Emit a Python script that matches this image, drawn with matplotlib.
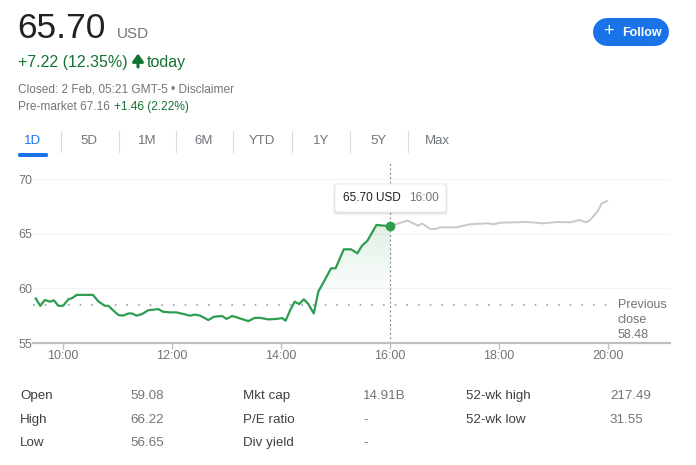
import numpy as np
import matplotlib
matplotlib.use('Agg')
import matplotlib.pyplot as plt
from matplotlib.patches import FancyBboxPatch

plt.rcParams['font.family'] = ['Liberation Sans', 'DejaVu Sans']

# regular session (green) and after-hours (grey)
reg_times = ['9:30', '9:35', '9:40', '9:46', '9:50', '9:55', '10:00', '10:06', '10:10', '10:15',
             '10:33', '10:39', '10:46', '10:50', '10:55', '11:01', '11:06', '11:12', '11:16', '11:21',
             '11:27', '11:34', '11:45', '11:50', '11:58', '12:05', '12:20', '12:25', '12:31', '12:40',
             '12:46', '12:55', '13:00', '13:06', '13:11', '13:24', '13:31', '13:37', '13:46', '13:55',
             '14:01', '14:05', '14:10', '14:15', '14:20', '14:25', '14:30', '14:36', '14:41', '14:47',
             '14:50', '14:55', '15:00', '15:09', '15:17', '15:24', '15:29', '15:35', '15:45', '15:53',
             '16:00']
reg_prices = [59.08, 58.40, 58.93, 58.78, 58.90, 58.40, 58.40, 59.00, 59.10, 59.40,
              59.40, 58.80, 58.40, 58.40, 58.00, 57.56, 57.50, 57.70, 57.70, 57.50,
              57.65, 58.00, 58.10, 57.86, 57.80, 57.80, 57.50, 57.60, 57.50, 57.10,
              57.40, 57.47, 57.20, 57.47, 57.35, 57.00, 57.30, 57.30, 57.16, 57.20,
              57.28, 57.04, 58.00, 58.78, 58.56, 59.00, 58.56, 57.70, 59.70, 60.60,
              61.06, 61.83, 61.83, 63.57, 63.57, 63.20, 63.90, 64.35, 65.80, 65.73,
              65.70]
post_times = ['16:00', '16:07', '16:19', '16:31', '16:35', '16:44', '16:50', '16:55', '17:13', '17:28',
              '17:47', '17:54', '18:01', '18:31', '18:49', '19:04', '19:18', '19:29', '19:36', '19:40',
              '19:48', '19:53', '19:59']
post_prices = [65.70, 65.88, 66.20, 65.73, 65.94, 65.43, 65.43, 65.58, 65.58, 65.86,
               65.94, 65.86, 66.00, 66.07, 65.94, 66.07, 66.04, 66.25, 66.04, 66.25,
               67.00, 67.78, 67.99]
prev_close = 58.48
y_ticks = [55, 60, 65, 70]
x_ticks = [10, 12, 14, 16, 18, 20]
x_tick_labels = ['10:00', '12:00', '14:00', '16:00', '18:00', '20:00']

tabs = ['1D', '5D', '1M', '6M', 'YTD', '1Y', '5Y', 'Max']
stats_labels = [['Open', 'High', 'Low'], ['Mkt cap', 'P/E ratio', 'Div yield'], ['52-wk high', '52-wk low']]
stats_values = [['59.08', '66.22', '56.65'], ['14.91B', '-', '-'], ['217.49', '31.55']]


def to_hours(ts):
    return np.array([int(t.split(':')[0]) + int(t.split(':')[1]) / 60 for t in ts])


W, H = 696, 465
fig = plt.figure(figsize=(W / 100, H / 100), dpi=100)


def fx(x):
    return x / W


def fy(y):
    return 1 - y / H


DARK = '#202124'
GREY = '#70757a'
GREEN = '#137333'
LINE_GREEN = '#2e9d50'
BLUE = '#1a73e8'

# chart
ax = fig.add_axes([fx(33), fy(343), fx(670 - 33), fy(162.6) - fy(343)])
rx = to_hours(reg_times)
px_ = to_hours(post_times)
ax.set_xlim(9 + 27 / 60, 21 + 8 / 60)
ax.set_ylim(55, 71.5)

# gradient fill under the regular session line
grad = np.zeros((200, 2, 4))
grad[..., 0] = 0.20
grad[..., 1] = 0.62
grad[..., 2] = 0.33
alpha = np.clip((np.linspace(55, 71.5, 200) - 59) / (66 - 59), 0, 1) * 0.16
grad[..., 3] = alpha[:, None]
poly = ax.fill_between(rx, reg_prices, 55, color='none', lw=0)
img = ax.imshow(grad, extent=[rx[0], rx[-1], 55, 71.5], origin='lower', aspect='auto', zorder=1)
img.set_clip_path(poly.get_paths()[0], transform=ax.transData)

for g in y_ticks[1:]:
    ax.axhline(g, color='#f1f3f4', lw=0.8, zorder=0)
ax.plot([ax.get_xlim()[0], 19.95 + 5 / 60], [prev_close, prev_close], color='#9aa0a6', lw=1.2,
        ls=(0, (1, 6)), zorder=2)
ax.axvline(16, ymin=0, ymax=1, color='#70757a', lw=0.8, ls=(0, (1.5, 2.5)), zorder=2)
ax.plot(px_, post_prices, color='#c8c8c8', lw=1.4, zorder=3)
ax.plot(rx, reg_prices, color=LINE_GREEN, lw=1.6, zorder=4)
ax.plot(rx[-1], reg_prices[-1], 'o', color=LINE_GREEN, ms=6, zorder=5)

for s in ['top', 'right', 'left']:
    ax.spines[s].set_visible(False)
ax.spines['bottom'].set_color('#bdc1c6')
ax.spines['bottom'].set_linewidth(1.6)
ax.set_xticks(x_ticks)
ax.set_xticklabels(x_tick_labels)
ax.set_yticks(y_ticks)
ax.tick_params(axis='x', colors='#bdc1c6', length=4, width=1, pad=1, labelsize=9, labelcolor=GREY)
ax.tick_params(axis='y', length=0, pad=0.5, labelsize=9, labelcolor=GREY)
ax.set_facecolor('none')

# overlay in pixel coordinates for the page furniture
ov = fig.add_axes([0, 0, 1, 1], zorder=10)
ov.set_xlim(0, W)
ov.set_ylim(H, 0)
ov.axis('off')
ov.patch.set_alpha(0)

# header
ov.text(17, 38, '65.70', fontsize=25.5, color=DARK, va='baseline')
ov.text(117, 38, 'USD', fontsize=11, color=GREY, va='baseline')
ov.text(18, 67, '+7.22 (12.35%)', fontsize=11.5, color=GREEN, va='baseline')
ov.annotate('', xy=(138, 53.5), xytext=(138, 67),
            arrowprops=dict(arrowstyle='-|>,head_width=0.32,head_length=0.45', lw=2.2,
                            color=GREEN, shrinkA=0, shrinkB=0))
ov.text(147, 67, 'today', fontsize=11.5, color=GREEN, va='baseline')
ov.text(18, 92, 'Closed: 2 Feb, 05:21 GMT-5 \u2022 Disclaimer', fontsize=8.6, color=GREY,
        va='baseline')
ov.text(18, 110, 'Pre-market 67.16', fontsize=8.6, color=GREY, va='baseline')
ov.text(114, 110, '+1.46 (2.22%)', fontsize=8.6, color=GREEN, va='baseline')

# follow button (pill)
ov.plot([607, 655], [32, 32], color=BLUE, lw=28 * 0.72, solid_capstyle='round')
ov.text(608, 32, '+', fontsize=13, color='white', ha='center', va='center')
ov.text(622, 32.5, 'Follow', fontsize=9, color='white', va='center', fontweight='bold')

# tabs
tab_x = [33, 89, 147, 204, 262, 321, 378, 437]
for i, (lab, x) in enumerate(zip(tabs, tab_x)):
    ov.text(x, 141, lab, fontsize=9.5, color=BLUE if i == 0 else GREY, ha='center', va='center')
for x in [61, 119, 176, 233, 292, 350, 408]:
    ov.plot([x, x], [131, 152], color='#dadce0', lw=0.8)
ov.add_patch(FancyBboxPatch((18, 153), 30, 4, boxstyle='round,pad=0,rounding_size=1.5',
                            facecolor=BLUE, edgecolor='none'))

# previous close label
for txt, y in [('Previous', 305), ('close', 320), ('58.48', 335)]:
    ov.text(618, y, txt, fontsize=9, color=GREY, va='center')

# tooltip
for off, a in [(2, 0.04), (1, 0.07)]:
    ov.add_patch(FancyBboxPatch((335 - off, 184 - off + 1), 111 + 2 * off, 28 + 2 * off,
                                boxstyle='round,pad=0,rounding_size=3', facecolor='black',
                                alpha=a, edgecolor='none'))
ov.add_patch(FancyBboxPatch((335, 184), 111, 28, boxstyle='round,pad=0,rounding_size=3',
                            facecolor='white', edgecolor='#e8eaed', lw=0.6))
ov.text(343, 198, '65.70 USD', fontsize=8.5, color=DARK, va='center')
ov.text(409, 198, '16:00', fontsize=8.5, color=GREY, va='center')

# stats table
col_lab_x = [20, 243, 466]
col_val_x = [130, 363, 610]
row_y = [396, 420, 443]
for c in range(3):
    for r in range(len(stats_labels[c])):
        ov.text(col_lab_x[c], row_y[r], stats_labels[c][r], fontsize=9.6, color='#3c4043',
                va='center')
        ov.text(col_val_x[c], row_y[r], stats_values[c][r], fontsize=9.6, color=GREY, va='center')

fig.savefig('out.png', dpi=100, facecolor='white')
